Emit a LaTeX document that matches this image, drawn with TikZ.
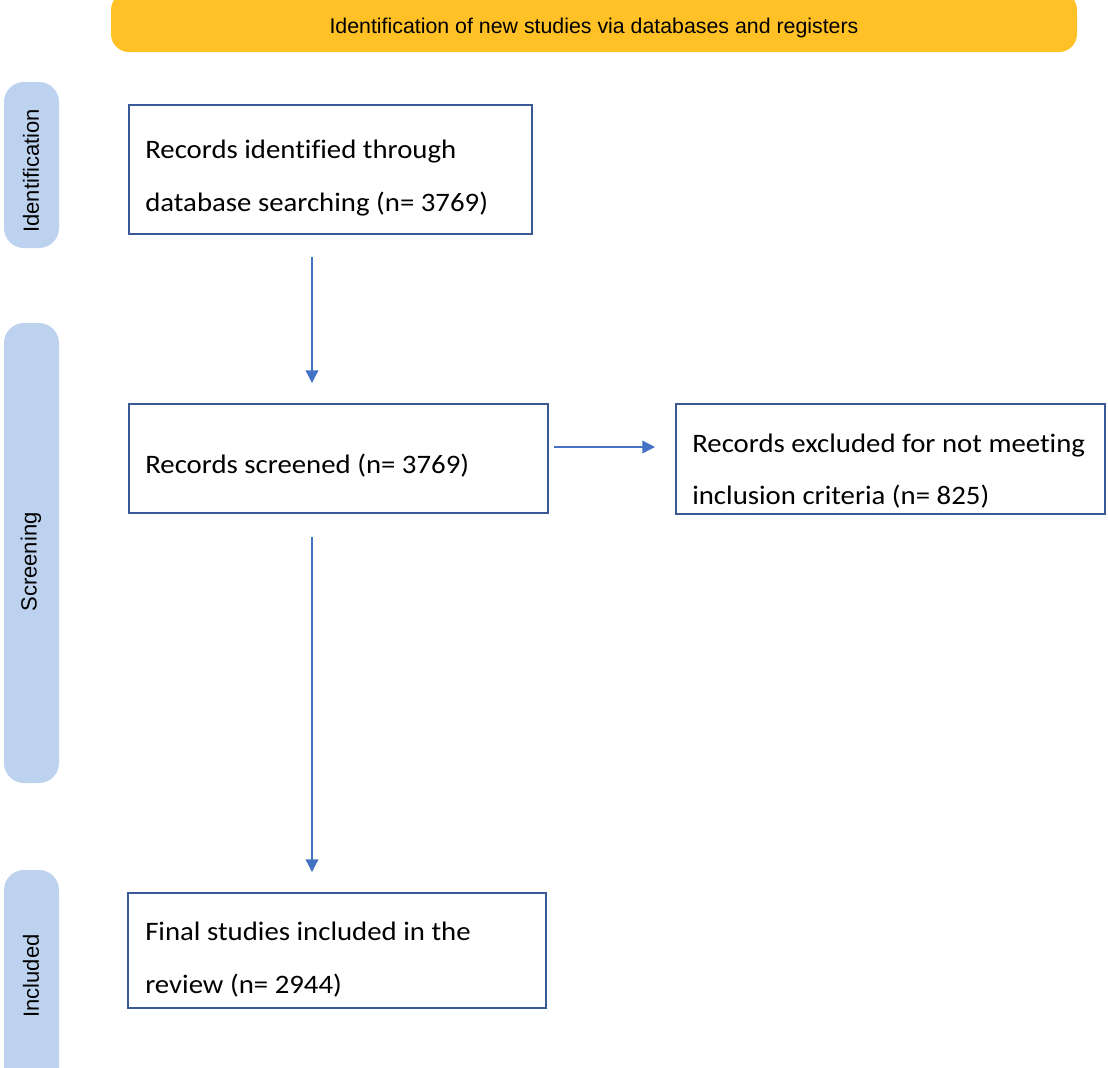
\documentclass[tikz,border=0pt]{standalone}
\usepackage{fontspec}
\setmainfont{Liberation Sans}
\newfontfamily\boxfont[FakeStretch=1.08,Ligatures=NoCommon]{Carlito}
\usetikzlibrary{calc,arrows.meta}
\definecolor{bannerfill}{HTML}{FFC125}
\definecolor{pillfill}{HTML}{BCD2EE}
\definecolor{boxline}{HTML}{3A5A97}
\definecolor{arrowcol}{HTML}{4472C4}
\tikzset{
  banner/.style={fill=bannerfill, draw=none, rounded corners=18*0.75pt},
  pill/.style={fill=pillfill, draw=none, rounded corners=20*0.75pt},
  pilltext/.style={font=\fontsize{16.5pt}{19pt}\selectfont, rotate=90, inner sep=0pt},
  flowbox/.style={draw=boxline, line width=1.6pt, fill=white},
  linetext/.style={font=\boxfont\fontsize{20pt}{24pt}\selectfont, anchor=base west, inner sep=0pt},
  arr/.style={draw=arrowcol, line width=1pt, -{Triangle[length=9.5pt,width=9.5pt]}}
}
\begin{document}
\begin{tikzpicture}[x=0.75pt,y=-0.75pt]
\useasboundingbox (0,0) rectangle (1108,1068);
\clip (0,0) rectangle (1108,1068);
% banner
\path[banner] (111,-8) rectangle (1077,52);
\node[font=\fontsize{16pt}{19pt}\selectfont, inner sep=0pt] (bantext) at (594,27.5) {Identification of new studies via databases and registers};
% side pills
\path[pill] (4,82) rectangle (59,248);
\node[pilltext] (idlab) at (31,171) {Identification};
\path[pill] (4,323) rectangle (59,783);
\node[pilltext] (sclab) at (31,562) {Screening};
\path[pill] (4,870) rectangle (59,1090);
\node[pilltext] (inlab) at (31,976) {Included};
% boxes
\path[flowbox] (129,105) rectangle (532,234);
\coordinate (b1sw) at (129,234);
\path[flowbox] (129,404) rectangle (548,513);
\coordinate (b2nw) at (129,404);
\coordinate (b2sw) at (129,513);
\coordinate (b2e) at (548,458.5);
\path[flowbox] (676,404) rectangle (1105,514);
\coordinate (b3w) at (676,459);
\path[flowbox] (128,893) rectangle (546,1008);
\coordinate (b4nw) at (128,893);
% texts
\node[linetext] (t1a) at (145,158) {Records identified through};
\node[linetext] (t1b) at (145,211) {database searching (n= 3769)};
\node[linetext] (t2a) at (145,473) {Records screened (n= 3769)};
\node[linetext] (t3a) at (692,452) {Records excluded for not meeting};
\node[linetext] (t3b) at (692,504) {inclusion criteria (n= 825)};
\node[linetext] (t4a) at (145,940) {Final studies included in the};
\node[linetext] (t4b) at (145,993) {review (n= 2944)};
% arrows
\draw[arr] ($(b1sw)+(183,23)$) -- ($(b2nw)+(183,-21)$);
\draw[arr] ($(b2sw)+(183,24)$) -- ($(b4nw)+(184,-21)$);
\draw[arr] ($(b2e)+(6,-11.5)$) -- ($(b3w)+(-21,-12)$);
\end{tikzpicture}
\end{document}
